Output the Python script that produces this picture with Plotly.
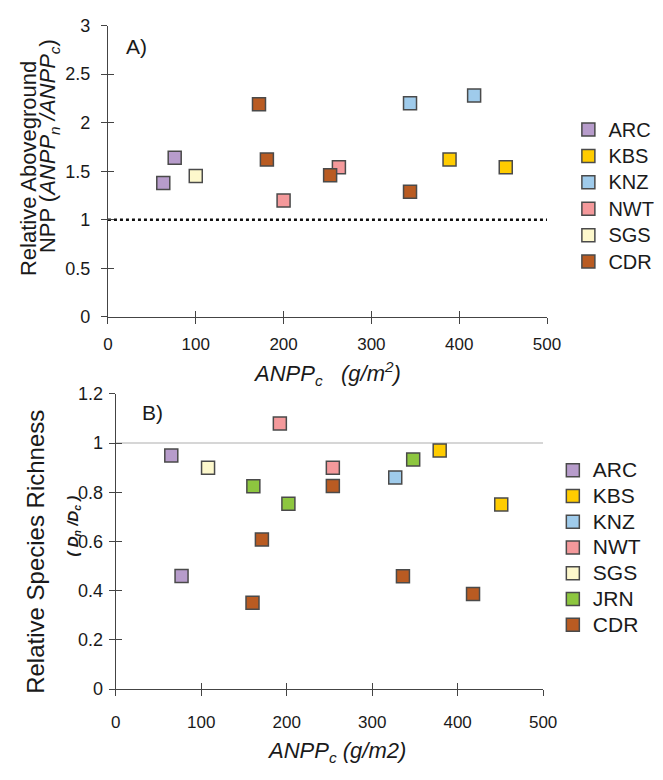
import plotly.graph_objects as go

FONT = "Liberation Sans, Arial, sans-serif"

# ---------------- Data ----------------
sites_a = ["ARC", "KBS", "KNZ", "NWT", "SGS", "CDR"]
anpp_a = {
    "ARC": [63, 76],
    "KBS": [389, 453],
    "KNZ": [344, 417],
    "NWT": [200, 263],
    "SGS": [100],
    "CDR": [172, 181, 253, 344],
}
rel_npp = {
    "ARC": [1.38, 1.64],
    "KBS": [1.62, 1.54],
    "KNZ": [2.20, 2.28],
    "NWT": [1.20, 1.54],
    "SGS": [1.45],
    "CDR": [2.19, 1.62, 1.46, 1.29],
}

sites_b = ["ARC", "KBS", "KNZ", "NWT", "SGS", "JRN", "CDR"]
anpp_b = {
    "ARC": [65, 77],
    "KBS": [379, 451],
    "KNZ": [327],
    "NWT": [192, 254],
    "SGS": [108],
    "JRN": [161, 202, 348],
    "CDR": [171, 254, 160, 336, 418],
}
rel_rich = {
    "ARC": [0.95, 0.46],
    "KBS": [0.97, 0.75],
    "KNZ": [0.86],
    "NWT": [1.08, 0.90],
    "SGS": [0.90],
    "JRN": [0.825, 0.753, 0.933],
    "CDR": [0.608, 0.826, 0.351, 0.459, 0.387],
}

colors = {
    "ARC": "#b79ccb",
    "KBS": "#ffcc00",
    "KNZ": "#9fcbeb",
    "NWT": "#f4999b",
    "SGS": "#fdf8cc",
    "JRN": "#8dc63f",
    "CDR": "#b95b22",
}

xticks = [0, 100, 200, 300, 400, 500]
yticks_a = [0, 0.5, 1, 1.5, 2, 2.5, 3]
ytext_a = ["0", "0.5", "1", "1.5", "2", "2.5", "3"]
yticks_b = [0, 0.2, 0.4, 0.6, 0.8, 1.0, 1.2]
ytext_b = ["0", "0.2", "0.4", "0.6", "0.8", "1", "1.2"]

W, H = 663, 780


def px(x):
    return x / W


def py(y):
    return 1 - y / H


def legname(s, size):
    return f'<span style="font-size:{size}px">{s}</span>'


fig = go.Figure()

for s in sites_a:
    fig.add_trace(go.Scatter(
        x=anpp_a[s], y=rel_npp[s], mode="markers", name=legname(s, 20),
        xaxis="x", yaxis="y", legend="legend",
        marker=dict(symbol="square", size=13, color=colors[s],
                    line=dict(color="#4a4a4a", width=1.5)),
    ))

for s in sites_b:
    fig.add_trace(go.Scatter(
        x=anpp_b[s], y=rel_rich[s], mode="markers", name=legname(s, 21),
        xaxis="x2", yaxis="y2", legend="legend2",
        marker=dict(symbol="square", size=13, color=colors[s],
                    line=dict(color="#4a4a4a", width=1.5)),
    ))

# dummy traces for overlay (inside-tick) axes
for xa, ya in [("x3", "y3"), ("x4", "y4")]:
    fig.add_trace(go.Scatter(x=[None], y=[None], xaxis=xa, yaxis=ya,
                             showlegend=False, hoverinfo="skip"))

axis_common = dict(showgrid=False, zeroline=False, showline=True,
                   linecolor="#444444", linewidth=1.3, ticks="outside",
                   ticklen=6, tickwidth=1.3, tickcolor="#444444",
                   tickfont=dict(family=FONT, size=18, color="#1a1a1a"),
                   fixedrange=True)
overlay_common = dict(showgrid=False, zeroline=False, showline=False,
                      ticks="inside", ticklen=6, tickwidth=1.3,
                      tickcolor="#444444", showticklabels=False,
                      fixedrange=True)

dom_ax = [px(106), px(558)]
dom_ay = [py(315), py(16)]
dom_bx = [px(114), px(554)]
dom_by = [py(697), py(394)]

fig.update_layout(
    width=W, height=H,
    margin=dict(l=0, r=0, t=0, b=0),
    paper_bgcolor="white", plot_bgcolor="white",
    font=dict(family=FONT, color="#1a1a1a"),
    xaxis=dict(axis_common, domain=dom_ax, range=[0, 500], anchor="y",
               tickvals=xticks, ticklabelstandoff=6,
               tickfont=dict(family=FONT, size=17, color="#1a1a1a")),
    yaxis=dict(axis_common, domain=dom_ay, range=[0, 3], anchor="x",
               tickvals=yticks_a, ticktext=ytext_a, ticklabelstandoff=7),
    xaxis2=dict(axis_common, domain=dom_bx, range=[0, 500], anchor="y2",
                tickvals=xticks, ticklabelstandoff=11,
                tickfont=dict(family=FONT, size=17, color="#1a1a1a")),
    yaxis2=dict(axis_common, domain=dom_by, range=[0, 1.2], anchor="x2",
                tickvals=yticks_b, ticktext=ytext_b, ticklabelstandoff=2),
    xaxis3=dict(overlay_common, overlaying="x", anchor="y3", range=[0, 500],
                tickvals=xticks),
    yaxis3=dict(overlay_common, overlaying="y", anchor="x3", range=[0, 3],
                tickvals=yticks_a),
    xaxis4=dict(overlay_common, overlaying="x2", anchor="y4", range=[0, 500],
                tickvals=xticks),
    yaxis4=dict(overlay_common, overlaying="y2", anchor="x4", range=[0, 1.2],
                tickvals=yticks_b),
    legend=dict(x=px(580), y=py(104), xanchor="left", yanchor="top",
                font=dict(family=FONT, size=18, color="#1a1a1a"),
                bgcolor="rgba(0,0,0,0)", tracegroupgap=0),
    legend2=dict(x=px(564), y=py(454), xanchor="left", yanchor="top",
                 font=dict(family=FONT, size=17.5, color="#1a1a1a"),
                 bgcolor="rgba(0,0,0,0)", tracegroupgap=0),
    showlegend=True,
)

# reference lines at y = 1
fig.add_shape(type="line", xref="x", yref="y", x0=0, x1=500, y0=1, y1=1,
              line=dict(color="#111111", width=2.5, dash="dot"), layer="below")
fig.add_shape(type="line", xref="x2", yref="y2", x0=0, x1=500, y0=1, y1=1,
              line=dict(color="#c8c8c8", width=1.5), layer="below")

ann = [
    dict(text="A)", x=px(135), y=py(37), size=21),
    dict(text="B)", x=px(152), y=py(413), size=21),
    dict(text="Relative Aboveground", x=px(25), y=py(163), size=22, angle=-90),
    dict(text="NPP (<i>ANPP<sub>n</sub> /ANPP<sub>c</sub></i>)", x=px(46),
         y=py(140), size=22, angle=-90),
    dict(text="<i>ANPP<sub>c</sub>&nbsp;&nbsp;&nbsp;(g/m<sup>2</sup>)</i>",
         x=px(332), y=py(373), size=22),
    dict(text="Relative Species Richness", x=px(32), y=py(556), size=24,
         angle=-90),
    dict(text="<b><i>( D<sub>n</sub> /D<sub>c</sub> )</i></b>",
         x=px(70), y=py(529), size=15, angle=-90),
    dict(text="<i>ANPP<sub>c</sub> (g/m2)</i>", x=px(341), y=py(762), size=22),
]
for a in ann:
    fig.add_annotation(text=a["text"], x=a["x"], y=a["y"], xref="paper",
                       yref="paper", showarrow=False, xanchor="center",
                       yanchor="middle", textangle=a.get("angle", 0),
                       font=dict(family=FONT, size=a["size"], color="#1a1a1a"))

fig.write_html(
    "out.html",
    config={"displayModeBar": False},
    post_script="document.body.style.margin='0';"
                "document.body.style.overflow='hidden';",
)
